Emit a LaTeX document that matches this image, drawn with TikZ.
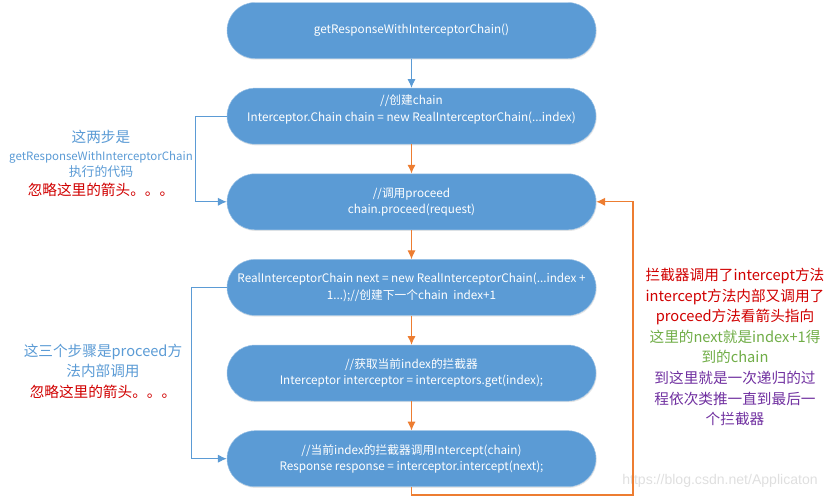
\documentclass[tikz,border=0pt]{standalone}
\usepackage{fontspec}
\setmainfont{Noto Sans CJK SC}
\newfontfamily\markfont{Liberation Sans}
\usetikzlibrary{arrows.meta, shadows, positioning}

\definecolor{boxblue}{HTML}{5B9BD5}
\definecolor{flowblue}{HTML}{5B9BD5}
\definecolor{floworange}{HTML}{ED7D31}
\definecolor{notered}{HTML}{D00000}
\definecolor{notegreen}{HTML}{70AD47}
\definecolor{notepurple}{HTML}{7030A0}

\begin{document}
\begin{tikzpicture}[x=0.03cm, y=-0.03cm, node distance=0.875cm,
        stepbox/.style={draw=boxblue!60!white, fill=boxblue, text=white, rounded corners=0.84cm,
            minimum width=11.07cm, minimum height=1.68cm, align=center,
            font=\fontsize{10}{13.8}\selectfont,
            drop shadow={opacity=0.2, shadow xshift=0.6pt, shadow yshift=-1pt}},
        note/.style={align=center, text=flowblue},
        flow/.style={-{Latex[length=7.5pt,width=7pt]}, line width=0.95pt}]
        \useasboundingbox (0,0) rectangle (838,499);

        \node[stepbox] (b1) at (411.5,30.5) {getResponseWithInterceptorChain()};
        \node[stepbox, below=of b1] (b2) {//创建chain\\Interceptor.Chain chain = new RealInterceptorChain(...index)\\\mbox{}};
        \node[stepbox, below=of b2] (b3) {//调用proceed\\chain.proceed(request)};
        \node[stepbox, below=of b3] (b4) {RealInterceptorChain next = new RealInterceptorChain(...index +\\1...);//创建下一个chain\ \ index+1};
        \node[stepbox, below=of b4] (b5) {//获取当前index的拦截器\\Interceptor interceptor = interceptors.get(index);};
        \node[stepbox, below=of b5] (b6) {//当前index的拦截器调用Intercept(chain)\\Response response = interceptor.intercept(next);};

        \node[note, font=\fontsize{12.5}{16}\selectfont] (twosteps) at (101,163) {这两步是\\
            {\fontsize{9.8}{13}\selectfont getResponseWithInterceptorChain}\\[-2.6pt]
            {\fontsize{11}{14}\selectfont 执行的代码}\\
            {\color{notered}忽略这里的箭头。。。}};
        \node[note, font=\fontsize{12.5}{17.5}\selectfont] (threesteps) at (103,371) {这三个步骤是proceed方\\法内部调用\\
            {\color{notered}忽略这里的箭头。。。}};
        \node[note, font=\fontsize{12.5}{17.6}\selectfont] (recursion) at (735,347) {{\color{notered}拦截器调用了intercept方法}\\
            {\color{notered}intercept方法内部又调用了}\\{\color{notered}proceed方法看箭头指向}\\
            {\color{notegreen}这里的next就是index+1得}\\{\color{notegreen}到的chain}\\
            {\color{notepurple}到这里就是一次递归的过}\\{\color{notepurple}程依次类推一直到最后一}\\
            {\color{notepurple}个拦截器}};
        \node[text=gray!25, font=\markfont\fontsize{12}{14}\selectfont] (mark) at (720,481) {https://blog.csdn.net/Applicaton};

        \coordinate (loop) at (633,495);

        \path[flow, color=flowblue] (b1) edge (b2);
        \path[flow, color=floworange] (b2) edge (b3);
        \path[flow, color=floworange] (b3) edge (b4);
        \path[flow, color=floworange] (b4) edge (b5);
        \path[flow, color=floworange] (b5) edge (b6);
        \draw[flow, color=flowblue] (b2.west) -- ++(-31,0) |- (b3.west);
        \draw[flow, color=flowblue] (b4.west) -- ++(-35,0) |- (b6.west);
        \draw[flow, color=floworange] (b6.south) |- (loop) |- (b3.east);
    \end{tikzpicture}
\end{document}
